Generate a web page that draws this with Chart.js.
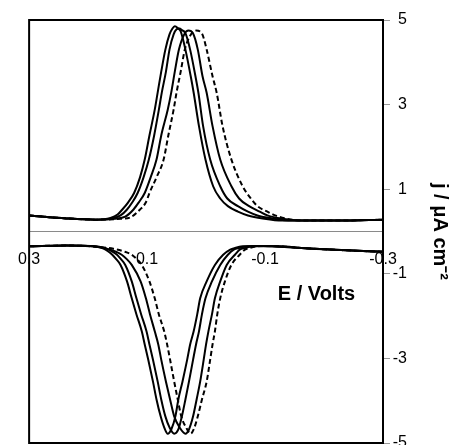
<!DOCTYPE html>
<html><head><meta charset="utf-8">
<script src="https://cdn.jsdelivr.net/npm/chart.js@4"></script>
<style>html,body{margin:0;padding:0;background:#fff;overflow:hidden}#wrap{position:relative;width:454px;height:470px}</style>
</head><body><div id="wrap"><canvas id="c"></canvas></div>
<script>
// Potential E (V) and current density j (uA cm^-2); upper = oxidation branches, lower = reduction branches
const E_ox1 = [0.300,0.237,0.187,0.162,0.150,0.142,0.132,0.122,0.112,0.104,0.096,0.087,0.082,0.076,0.069,0.062,0.057,0.053,0.048,0.043,0.035,0.026,0.021,0.012,0.001,-0.012,-0.024,-0.037,-0.054,-0.071,-0.096,-0.129,-0.229,-0.300];
const j_ox1 = [0.38,0.31,0.28,0.32,0.40,0.52,0.69,0.91,1.28,1.70,2.27,2.88,3.29,3.78,4.30,4.66,4.80,4.85,4.81,4.73,4.30,3.67,3.28,2.49,1.70,1.07,0.78,0.60,0.47,0.38,0.31,0.26,0.26,0.28];
const E_ox2 = [0.300,0.237,0.187,0.159,0.145,0.134,0.125,0.116,0.106,0.097,0.088,0.080,0.075,0.068,0.062,0.055,0.050,0.045,0.041,0.035,0.027,0.018,0.013,0.005,-0.007,-0.024,-0.036,-0.054,-0.071,-0.087,-0.112,-0.145,-0.229,-0.300];
const j_ox2 = [0.38,0.31,0.28,0.31,0.38,0.52,0.69,0.91,1.28,1.70,2.27,2.88,3.29,3.78,4.30,4.66,4.78,4.80,4.76,4.69,4.30,3.67,3.28,2.49,1.70,1.07,0.78,0.60,0.47,0.38,0.31,0.26,0.26,0.28];
const E_ox3 = [0.300,0.237,0.187,0.154,0.137,0.123,0.114,0.104,0.094,0.084,0.076,0.065,0.059,0.053,0.046,0.037,0.030,0.022,0.014,0.006,-0.001,-0.011,-0.024,-0.043,-0.056,-0.073,-0.091,-0.104,-0.129,-0.162,-0.229,-0.300];
const j_ox3 = [0.38,0.31,0.28,0.30,0.35,0.52,0.69,0.91,1.28,1.70,2.27,2.88,3.29,3.78,4.30,4.66,4.75,4.68,4.30,3.67,3.28,2.49,1.70,1.07,0.78,0.60,0.47,0.38,0.30,0.26,0.26,0.28];
const E_oxD = [0.300,0.237,0.187,0.145,0.129,0.112,0.102,0.096,0.084,0.072,0.064,0.055,0.050,0.043,0.036,0.027,0.017,0.007,-0.001,-0.011,-0.018,-0.028,-0.043,-0.062,-0.076,-0.087,-0.104,-0.117,-0.137,-0.162,-0.229,-0.300];
const j_oxD = [0.38,0.31,0.28,0.30,0.33,0.52,0.69,0.91,1.28,1.70,2.27,2.88,3.29,3.78,4.30,4.63,4.75,4.68,4.30,3.67,3.28,2.49,1.70,1.07,0.78,0.60,0.47,0.38,0.30,0.26,0.26,0.28];

const E_red1 = [0.300,0.237,0.192,0.175,0.167,0.159,0.152,0.145,0.134,0.126,0.118,0.109,0.104,0.098,0.090,0.084,0.077,0.071,0.065,0.059,0.052,0.047,0.040,0.032,0.027,0.021,0.015,0.010,-0.001,-0.015,-0.029,-0.041,-0.049,-0.062,-0.087,-0.112,-0.162,-0.229,-0.300];
const j_red1 = [-0.35,-0.33,-0.35,-0.40,-0.46,-0.55,-0.66,-0.79,-1.18,-1.58,-1.96,-2.36,-2.67,-3.03,-3.55,-3.97,-4.37,-4.63,-4.78,-4.68,-4.37,-3.97,-3.55,-3.03,-2.67,-2.36,-1.96,-1.58,-1.18,-0.79,-0.55,-0.43,-0.39,-0.35,-0.34,-0.35,-0.39,-0.44,-0.48];
const E_red2 = [0.300,0.237,0.192,0.170,0.160,0.151,0.144,0.137,0.126,0.118,0.110,0.101,0.096,0.090,0.082,0.076,0.069,0.062,0.054,0.047,0.041,0.035,0.029,0.022,0.017,0.012,0.007,0.001,-0.010,-0.024,-0.037,-0.047,-0.056,-0.071,-0.092,-0.112,-0.162,-0.229,-0.300];
const j_red2 = [-0.35,-0.33,-0.35,-0.40,-0.47,-0.55,-0.66,-0.79,-1.18,-1.58,-1.96,-2.36,-2.67,-3.03,-3.55,-3.97,-4.37,-4.63,-4.78,-4.68,-4.37,-3.97,-3.55,-3.03,-2.67,-2.36,-1.96,-1.58,-1.18,-0.79,-0.55,-0.43,-0.39,-0.35,-0.34,-0.35,-0.39,-0.44,-0.48];
const E_red3 = [0.300,0.237,0.187,0.167,0.154,0.143,0.134,0.126,0.111,0.102,0.095,0.087,0.081,0.076,0.068,0.061,0.054,0.045,0.035,0.029,0.022,0.016,0.010,0.004,0.000,-0.004,-0.010,-0.015,-0.024,-0.035,-0.049,-0.057,-0.066,-0.079,-0.099,-0.129,-0.162,-0.229,-0.300];
const j_red3 = [-0.35,-0.33,-0.35,-0.41,-0.47,-0.55,-0.66,-0.79,-1.18,-1.58,-1.96,-2.36,-2.67,-3.03,-3.55,-3.97,-4.37,-4.63,-4.78,-4.68,-4.37,-3.97,-3.55,-3.03,-2.67,-2.36,-1.96,-1.58,-1.18,-0.79,-0.55,-0.43,-0.39,-0.35,-0.34,-0.35,-0.39,-0.44,-0.48];
const E_redD = [0.300,0.237,0.179,0.157,0.140,0.126,0.117,0.109,0.096,0.087,0.080,0.071,0.066,0.061,0.054,0.048,0.042,0.034,0.026,0.021,0.014,0.007,-0.001,-0.007,-0.011,-0.015,-0.019,-0.024,-0.032,-0.043,-0.057,-0.066,-0.074,-0.086,-0.104,-0.129,-0.162,-0.229,-0.300];
const j_redD = [-0.35,-0.33,-0.37,-0.41,-0.47,-0.55,-0.66,-0.79,-1.18,-1.58,-1.96,-2.36,-2.67,-3.03,-3.55,-3.97,-4.37,-4.63,-4.78,-4.68,-4.37,-3.97,-3.55,-3.03,-2.67,-2.36,-1.96,-1.58,-1.18,-0.79,-0.55,-0.43,-0.39,-0.35,-0.34,-0.35,-0.39,-0.44,-0.48];

const xTicks = [0.3, 0.1, -0.1, -0.3];
const yTicks = [5, 3, 1, -1, -3, -5];
const xTitle = 'E / Volts';
const yTitle = 'j / \u03BCA cm\u207B\u00B2';

const FONT = '"Liberation Sans", Arial, Helvetica, sans-serif';
function pts(E, j) { return E.map((e, i) => ({ x: e, y: j[i] })); }
const curves = [
  { E: E_ox1, j: j_ox1, dash: false }, { E: E_ox2, j: j_ox2, dash: false }, { E: E_ox3, j: j_ox3, dash: false },
  { E: E_red1, j: j_red1, dash: false }, { E: E_red2, j: j_red2, dash: false }, { E: E_red3, j: j_red3, dash: false },
  { E: E_oxD, j: j_oxD, dash: true }, { E: E_redD, j: j_redD, dash: true }
];
const datasets = curves.map(c => ({
  data: pts(c.E, c.j), showLine: true, borderColor: '#000', borderWidth: 2,
  borderDash: c.dash ? [5, 3] : [], pointRadius: 0, cubicInterpolationMode: 'monotone', fill: false
}));

const framePlugin = {
  id: 'frame',
  afterDraw(ch) {
    const { ctx, chartArea: a } = ch;
    ctx.save();
    ctx.strokeStyle = '#000'; ctx.lineWidth = 2;
    ctx.strokeRect(a.left, a.top, a.right - a.left, a.bottom - a.top);
    ctx.fillStyle = '#000';
    ctx.font = 'bold 20px ' + FONT;
    ctx.textAlign = 'center'; ctx.textBaseline = 'middle';
    ctx.fillText(xTitle, a.left + 0.812 * (a.right - a.left), a.top + 0.648 * (a.bottom - a.top));
    ctx.restore();
  }
};

new Chart(document.getElementById('c'), {
  type: 'scatter',
  data: { datasets },
  plugins: [framePlugin],
  options: {
    responsive: true, maintainAspectRatio: false, animation: false, devicePixelRatio: 1,
    layout: { padding: { left: 22, top: 20, right: 47, bottom: 27 } },
    plugins: { legend: { display: false }, tooltip: { enabled: false } },
    scales: {
      x: {
        type: 'linear', reverse: true, min: -0.3, max: 0.3, position: { y: 0 },
        afterBuildTicks: s => { s.ticks = xTicks.map(v => ({ value: v })); },
        ticks: { callback: v => Number(v).toFixed(1), font: { family: FONT, size: 16 }, color: '#000', padding: 18, autoSkip: false, maxRotation: 0 },
        grid: { display: true, drawOnChartArea: false, drawTicks: false },
        border: { display: true, color: '#8a8a8a', width: 1 }
      },
      y: {
        type: 'linear', position: 'right', min: -5, max: 5,
        afterBuildTicks: s => { s.ticks = yTicks.map(v => ({ value: v })); },
        afterFit: s => { s.width = 24; },
        ticks: { crossAlign: 'far', padding: 3, font: { family: FONT, size: 16 }, color: '#000', callback: v => String(v) },
        grid: { drawOnChartArea: false, drawTicks: true, tickLength: 7, color: '#999' },
        border: { display: false },
        title: { display: true, text: yTitle, color: '#000', font: { family: FONT, size: 20, weight: 'bold' }, padding: { top: -45, bottom: 0 } }
      }
    }
  }
});
</script>
</body></html>
